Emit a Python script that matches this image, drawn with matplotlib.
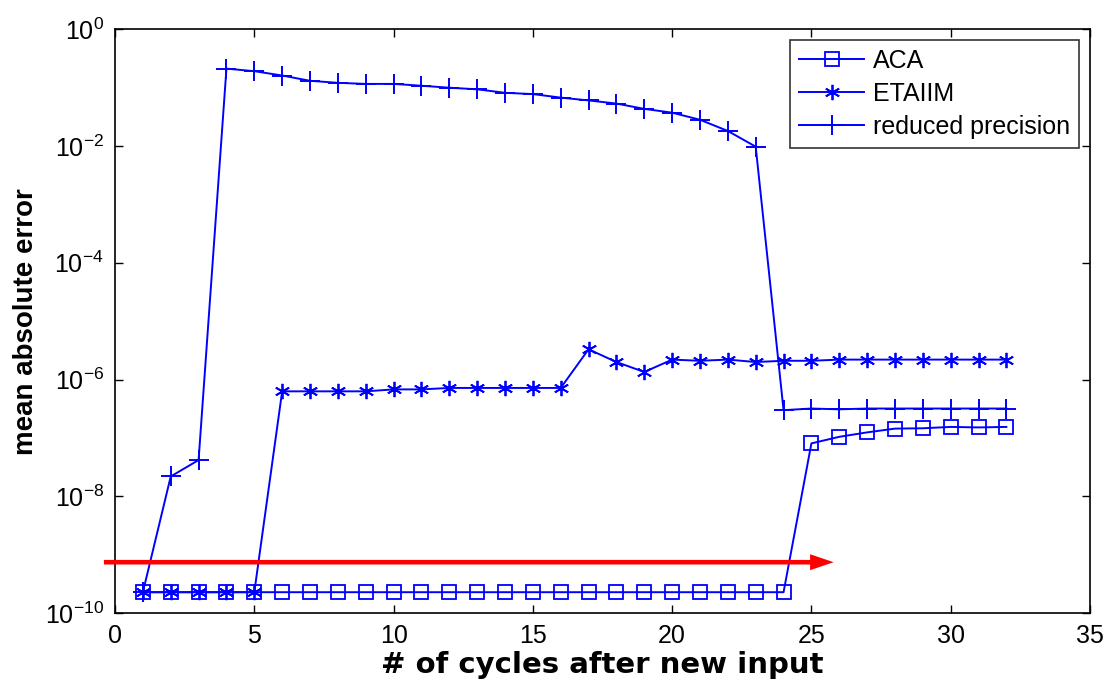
import numpy as np
import matplotlib
matplotlib.use('Agg')
import matplotlib.pyplot as plt

plt.rcParams['font.family'] = ['Liberation Sans', 'DejaVu Sans']
plt.rcParams['mathtext.fontset'] = 'custom'
plt.rcParams['mathtext.rm'] = 'Liberation Sans'
plt.rcParams['mathtext.it'] = 'Liberation Sans'

# cycles after new input
cycles = np.arange(1, 33)

# mean absolute error per method
aca = [2.3e-10] * 24 + [8.1e-8, 1.05e-7, 1.25e-7, 1.45e-7, 1.47e-7, 1.55e-7, 1.52e-7, 1.55e-7]
etaiim = [2.3e-10] * 5 + [6.3e-7, 6.3e-7, 6.3e-7, 6.3e-7, 6.8e-7, 6.8e-7, 7.2e-7, 7.2e-7,
                          7.2e-7, 7.2e-7, 7.2e-7, 3.3e-6, 2.0e-6, 1.35e-6, 2.2e-6, 2.1e-6,
                          2.2e-6, 2.0e-6, 2.1e-6, 2.1e-6, 2.2e-6, 2.2e-6, 2.2e-6, 2.2e-6,
                          2.2e-6, 2.2e-6, 2.2e-6]
reduced = [2.3e-10, 2.2e-8, 4.2e-8, 0.21, 0.19, 0.16, 0.13, 0.12, 0.115, 0.115, 0.107,
           0.099, 0.093, 0.081, 0.077, 0.067, 0.060, 0.053, 0.043, 0.037, 0.028, 0.018,
           0.0097, 3.0e-7, 3.2e-7, 3.1e-7, 3.2e-7, 3.2e-7, 3.2e-7, 3.2e-7, 3.2e-7, 3.2e-7]

# red arrow (start x, end x, level)
arrow_x = (-0.4, 25.8)
arrow_y = 7.5e-10

fig = plt.figure(figsize=(11.06, 6.83), dpi=100)
ax = fig.add_axes([0.104, 0.102, 0.8815, 0.8555])

blue = '#0000ff'
ax.plot(cycles, aca, color=blue, lw=1.4, marker='s', ms=10, mfc='none', mew=1.3, label='ACA')
ax.plot(cycles, etaiim, color=blue, lw=1.4, marker=(6, 2, 0), ms=11, mew=1.3, label='ETAIIM')
ax.plot(cycles, reduced, color=blue, lw=1.4, marker='+', ms=14, mew=1.4, label='reduced precision')

ax.annotate('', xy=(arrow_x[1], arrow_y), xytext=(arrow_x[0], arrow_y),
            arrowprops=dict(width=3.3, headwidth=11.5, headlength=17, shrink=0,
                            facecolor='red', edgecolor='none'),
            annotation_clip=False)

ax.set_yscale('log')
ax.set_xlim(0, 35)
ax.set_ylim(1e-10, 1)
ax.set_xticks(np.arange(0, 36, 5))
ax.set_yticks([10.0 ** k for k in range(-10, 1, 2)])
ax.minorticks_off()
ax.tick_params(direction='in', length=6, width=1, labelsize=18, top=True, right=True, pad=8)
for s in ax.spines.values():
    s.set_linewidth(1.2)

ax.set_xlabel('# of cycles after new input', fontsize=21, fontweight='bold',
              family='DejaVu Sans', labelpad=2)
ax.set_ylabel('mean absolute error', fontsize=20, fontweight='bold', labelpad=4)

leg = ax.legend(loc='upper right', fontsize=18, frameon=True, fancybox=False,
                edgecolor='black', borderpad=0.35, labelspacing=0.36, handlelength=2.6,
                handletextpad=0.35, borderaxespad=0.45)
leg.get_frame().set_linewidth(1.2)

fig.savefig('out.png', dpi=100)
